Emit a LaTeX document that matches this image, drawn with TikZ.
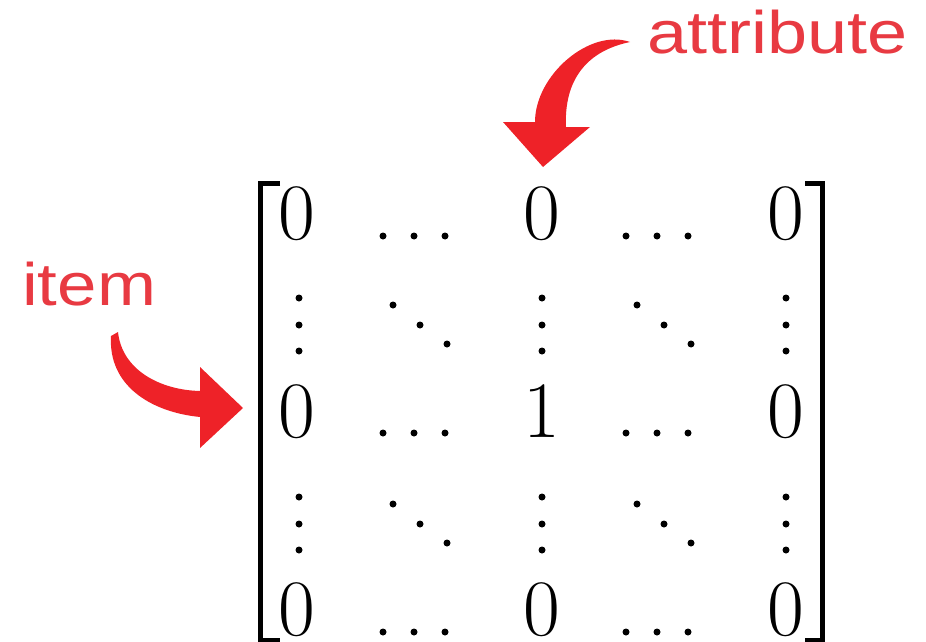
\documentclass[tikz,border=0pt]{standalone}
\usepackage{fontspec}
\newfontfamily\labelfont{Liberation Sans}
\definecolor{labelred}{RGB}{232,58,66}
\definecolor{arrowred}{RGB}{238,34,40}
\begin{document}
\begin{tikzpicture}[x=1pt,y=-1pt,
  entry/.style={inner sep=0pt,anchor=base,font=\fontsize{80}{96}\selectfont},
  tag/.style={inner sep=0pt,anchor=base west,text=labelred,xscale=1.18,
              font=\labelfont\fontsize{60}{72}\selectfont},
  bracket/.style={line width=5pt,line join=miter},
  mdot/.style={fill=black},
  bigarrow/.style={fill=arrowred}]
\useasboundingbox (0,0) rectangle (926,642);

% matrix entries
\node[entry] (a11) at (297,239) {0};
\node[entry] (a13) at (542,239) {0};
\node[entry] (a15) at (786,239) {0};
\node[entry] (a31) at (297,437) {0};
\node[entry] (a33) at (542,437) {1};
\node[entry] (a35) at (786,437) {0};
\node[entry] (a51) at (297,635) {0};
\node[entry] (a53) at (542,635) {0};
\node[entry] (a55) at (786,635) {0};

% horizontal dots in rows 1, 3, 5
\foreach \y in {236,433,632}{
  \foreach \x in {383,414,445,626,657,688}{
    \fill[mdot] (\x,\y) circle (3.5);
  }
}
% vertical and diagonal dots in rows 2 and 4
\foreach \dy in {0,199}{
  \foreach \x in {299,542,786}{
    \foreach \y in {298,325,351}{
      \fill[mdot] (\x,\y+\dy) circle (3.5);
    }
  }
  \foreach \x in {0,244}{
    \fill[mdot] (393+\x,305+\dy) circle (3.5);
    \fill[mdot] (420+\x,325+\dy) circle (3.5);
    \fill[mdot] (447+\x,344+\dy) circle (3.5);
  }
}

% brackets
\draw[bracket] (280,183) -- (260.5,183) -- (260.5,640) -- (280,640);
\draw[bracket] (805,183) -- (822.5,183) -- (822.5,640) -- (805,640);

% labels
\node[tag,xscale=1.2/1.18] (attr) at (647,53) {attribute};
\node[tag] (item) at (22,305) {item};

% curved arrow from "attribute" down to the middle column
\fill[bigarrow] (630,42) .. controls (590,28) and (535,75) .. (535,122)
  -- (503,122) -- (543,167) -- (590,127) -- (566,127)
  .. controls (564,85) and (582,52) .. (630,42) -- cycle;

% curved arrow from "item" right to the middle row
\fill[bigarrow] (111,336) -- (118,332)
  .. controls (122,370) and (160,390) .. (200,391)
  -- (200,367) -- (243,408) -- (200,448) -- (200,417)
  .. controls (150,412) and (108,385) .. (111,336) -- cycle;
\end{tikzpicture}
\end{document}
